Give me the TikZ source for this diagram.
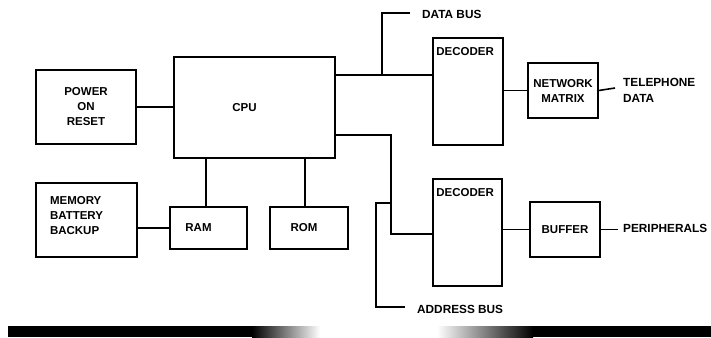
\documentclass[tikz,border=0pt]{standalone}
\usepackage{fontspec}
\setmainfont{Liberation Sans Bold}
\begin{document}
\begin{tikzpicture}[x=1pt,y=-1pt,
  lw/.style={line width=1.6pt},
  blk/.style={draw,lw,rectangle,inner sep=0pt,font=\fontsize{11.5}{15}\selectfont},
  lbl/.style={font=\fontsize{11.8}{16}\selectfont,inner sep=0pt,anchor=west,align=left}]
\useasboundingbox (0,0) rectangle (711,337);
% blocks
\node[blk,minimum width=100pt,minimum height=74pt,align=center] (power) at (86,107) {POWER\\ON\\RESET};
\node[blk,minimum width=101pt,minimum height=74pt,align=left,text width=73pt] (mem) at (86.5,220) {MEMORY\\BATTERY\\BACKUP\\[-6pt]\mbox{}};
\node[blk,minimum width=161pt,minimum height=101pt] (cpu) at (254.5,107.5) {\hspace*{-20pt}CPU};
\node[blk,minimum width=77pt,minimum height=42pt] (ram) at (208.5,228) {\hspace*{-20pt}RAM};
\node[blk,minimum width=78pt,minimum height=42pt] (rom) at (309,228) {\hspace*{-10pt}ROM};
\node[blk,minimum width=70pt,minimum height=107pt] (dec1) at (468,91.5) {};
\node[lbl,font=\fontsize{11.5}{15}\selectfont] (d1l) at ([xshift=4pt,yshift=-14pt]dec1.north west) {DECODER};
\node[blk,minimum width=69pt,minimum height=107pt] (dec2) at (467.5,232.5) {};
\node[lbl,font=\fontsize{11.5}{15}\selectfont] (d2l) at ([xshift=4pt,yshift=-14pt]dec2.north west) {DECODER};
\node[blk,minimum width=70pt,minimum height=55pt,align=center] (net) at (563,90.5) {NETWORK\\MATRIX};
\node[blk,minimum width=70pt,minimum height=55pt] (buf) at (565,229.5) {BUFFER};
% labels
\node[lbl] (dbl) at (422,14) {DATA BUS};
\node[lbl] (tel) at (623,90) {TELEPHONE\\DATA};
\node[lbl] (per) at (623,228) {PERIPHERALS};
\node[lbl] (abl) at (417,309) {ADDRESS BUS};
% coordinates
\coordinate (db) at (382,75);
\coordinate (dbt) at (382,13);
\coordinate (dbe) at (410,13);
\coordinate (ab1) at (391,135);
\coordinate (ab2) at (391,234);
\coordinate (ad1) at (391,203);
\coordinate (ad2) at (376,307);
\coordinate (ad3) at (405,307);
\coordinate (te) at (615,88);
\coordinate (pe) at (618,229.5);
% connectors
\draw[lw] (power.east) -- (power.east -| cpu.west);
\draw[lw] (ram.west) -- (ram.west -| mem.east);
\draw[lw] ([xshift=-2.5pt]ram.north) -- ([xshift=-2.5pt]ram.north |- cpu.south);
\draw[lw] ([xshift=-4pt]rom.north) -- ([xshift=-4pt]rom.north |- cpu.south);
\draw[lw] (db -| cpu.east) -- (db -| dec1.west);
\draw[lw] (db) -- (dbt) -- (dbe);
\draw[lw] (ab1 -| cpu.east) -- (ab1) -- (ab2) -- (ab2 -| dec2.west);
\draw[lw] (ad1 -| ab1) -- (ad1 -| ad2) -- (ad2) -- (ad3);
\draw[lw] (net.west) -- (net.west -| dec1.east);
\draw[lw] (net.east) -- (te);
\draw[lw] (buf.west) -- (buf.west -| dec2.east);
\draw[lw] (buf.east) -- (pe);
% bottom bar
\fill[black] (8,326) rectangle (252,337);
\shade[left color=black,right color=white] (252,326) rectangle (320,337);
\shade[left color=white,right color=black] (437,326) rectangle (533,337);
\fill[black] (533,326) rectangle (711,337);
\end{tikzpicture}
\end{document}
